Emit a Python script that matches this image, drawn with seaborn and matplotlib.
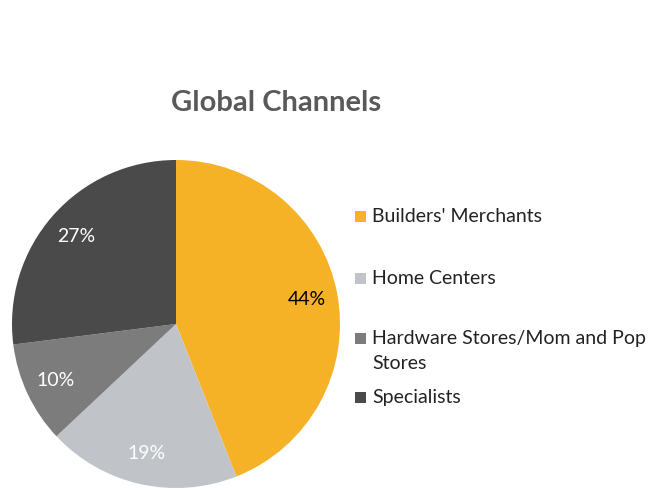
import matplotlib
matplotlib.use("Agg")
import matplotlib.pyplot as plt
from matplotlib.patches import Rectangle
import seaborn as sns

# Channel shares (percent)
channels = ["Builders' Merchants", "Home Centers",
            "Hardware Stores/Mom and Pop\nStores", "Specialists"]
shares = [44, 19, 10, 27]
colors = ["#F5B227", "#C0C4C9", "#7C7C7C", "#4A4A4A"]
label_colors = ["#000000", "#FFFFFF", "#FFFFFF", "#FFFFFF"]

sns.set_theme(style="white")
plt.rcParams["font.family"] = ["Lato", "DejaVu Sans"]

W, H = 650, 490
fig = plt.figure(figsize=(W / 100, H / 100), dpi=100)

# Pie axes: centre and radius in pixels
cx, cy, r = 176, 324, 164
ax = fig.add_axes([(cx - r) / W, (H - cy - r) / H, 2 * r / W, 2 * r / H])

wedges, texts, autotexts = ax.pie(
    shares, colors=colors, startangle=90, counterclock=False,
    autopct="%d%%", pctdistance=0.81,
    wedgeprops=dict(linewidth=0),
    textprops=dict(fontsize=14),
)
for t, c in zip(autotexts, label_colors):
    t.set_color(c)
ax.set_xlim(-1, 1)
ax.set_ylim(-1, 1)
ax.set_aspect("equal")
ax.axis("off")

fig.text(276 / W, 1 - 103 / H, "Global Channels", ha="center", va="center",
         fontsize=21, fontweight="bold", color="#595959")

# Legend entries: marker square plus label, first line aligned to marker
rows = [216.5, 278, 338, 397]
for name, col, y in zip(channels, colors, rows):
    fig.patches.append(Rectangle((355 / W, 1 - (y + 5.5) / H), 11 / W, 11 / H,
                                 transform=fig.transFigure, color=col,
                                 linewidth=0))
    fig.text(372 / W, 1 - (y - 8) / H, name, ha="left", va="top",
             fontsize=14, color="#222222", linespacing=1.55)

fig.savefig("out.png", dpi=100, facecolor="white")
